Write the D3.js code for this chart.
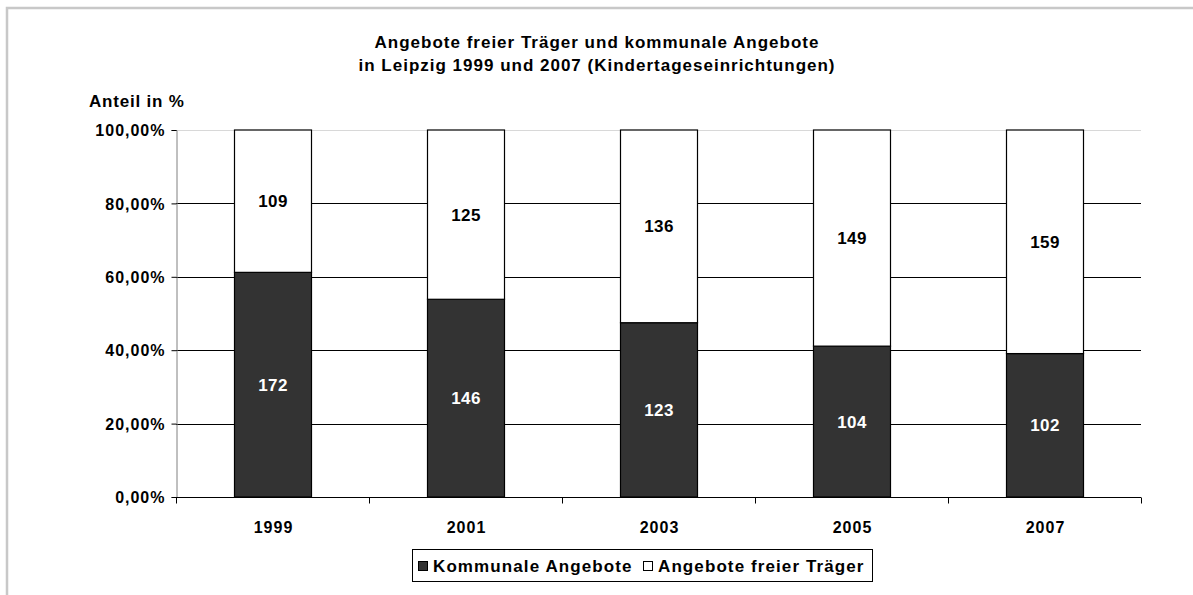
<!DOCTYPE html>
<html>
<head>
  <meta charset="utf-8">
  <script src="https://d3js.org/d3.v7.min.js"></script>
  <style>
    body { margin: 0; background: #fff; }
    text { font-family: "Liberation Sans", Arial, sans-serif; font-weight: bold; }
  </style>
</head>
<body>
  <svg width="1193" height="595"></svg>
  <script>
    const years = ['1999', '2001', '2003', '2005', '2007'];
    const kommunal = [172, 146, 123, 104, 102];
    const frei = [109, 125, 136, 149, 159];
    const yTicks = [0, 0.2, 0.4, 0.6, 0.8, 1];
    const seriesNames = ['Kommunale Angebote', 'Angebote freier Träger'];

    const svg = d3.select('svg');
    const margin = { left: 176, right: 52, top: 130, bottom: 98 };
    const width = 1193, height = 595;

    // outer frame
    svg.append('rect')
      .attr('x', 7).attr('y', 8)
      .attr('width', 1200).attr('height', 600)
      .attr('fill', 'none').attr('stroke', '#c8c8c8').attr('stroke-width', 2.5);

    const x = d3.scaleBand().domain(years)
      .range([margin.left, width - margin.right]).paddingInner(0.6).paddingOuter(0.3);
    const y = d3.scaleLinear().domain([0, 1]).range([height - margin.bottom, margin.top]);

    const fmt = v => d3.format('.2f')(v * 100).replace('.', ',') + '%';

    // gridlines
    svg.append('g').selectAll('line').data(yTicks.slice(1)).join('line')
      .attr('x1', margin.left).attr('x2', width - margin.right)
      .attr('y1', d => Math.round(y(d)) + 0.5).attr('y2', d => Math.round(y(d)) + 0.5)
      .attr('stroke', d => d === 1 ? '#d8d8d8' : '#000');

    // y axis
    const yAxis = svg.append('g')
      .attr('transform', `translate(${margin.left + 0.5},0)`)
      .call(d3.axisLeft(y).tickValues(yTicks).tickFormat(fmt).tickSize(5).tickPadding(6));
    yAxis.select('.domain').attr('stroke', '#808080');
    yAxis.selectAll('.tick line').attr('stroke', '#000');
    yAxis.selectAll('.tick text').attr('font-size', 16).attr('fill', '#000')
      .attr('letter-spacing', 1).attr('dy', '0.36em');

    // x axis
    const xAxisG = svg.append('g')
      .attr('transform', `translate(0,${Math.round(y(0)) + 0.5})`);
    xAxisG.append('line').attr('x1', margin.left).attr('x2', width - margin.right).attr('stroke', '#000');
    const step = x.step();
    const bounds = d3.range(years.length + 1).map(i => margin.left + i * step);
    xAxisG.selectAll('.xt').data(bounds).join('line').attr('class', 'xt')
      .attr('x1', d => Math.round(d) + 0.5).attr('x2', d => Math.round(d) + 0.5)
      .attr('y1', 0).attr('y2', 6).attr('stroke', '#000');
    xAxisG.selectAll('text').data(years).join('text')
      .attr('x', d => x(d) + x.bandwidth() / 2 + 1).attr('y', 35)
      .attr('text-anchor', 'middle').attr('font-size', 16).attr('letter-spacing', 1)
      .text(d => d);

    // bars
    const data = years.map((yr, i) => {
      const tot = kommunal[i] + frei[i];
      return { yr, k: kommunal[i], f: frei[i], pk: kommunal[i] / tot };
    });
    const bars = svg.append('g');
    bars.selectAll('.k').data(data).join('rect')
      .attr('x', d => Math.round(x(d.yr)) + 0.5).attr('width', Math.round(x.bandwidth()))
      .attr('y', d => y(d.pk)).attr('height', d => y(0) - y(d.pk))
      .attr('fill', '#333333').attr('stroke', '#000').attr('stroke-width', 1.2);
    bars.selectAll('.f').data(data).join('rect')
      .attr('x', d => Math.round(x(d.yr)) + 0.5).attr('width', Math.round(x.bandwidth()))
      .attr('y', y(1)).attr('height', d => y(d.pk) - y(1))
      .attr('fill', '#fff').attr('stroke', '#000').attr('stroke-width', 1.2);

    // data labels
    bars.selectAll('.lk').data(data).join('text')
      .attr('x', d => x(d.yr) + x.bandwidth() / 2 + 0.5)
      .attr('y', d => (y(0) + y(d.pk)) / 2 + 6)
      .attr('text-anchor', 'middle').attr('font-size', 17).attr('letter-spacing', 0.4)
      .attr('fill', '#fff').text(d => d.k);
    bars.selectAll('.lf').data(data).join('text')
      .attr('x', d => x(d.yr) + x.bandwidth() / 2 + 0.5)
      .attr('y', d => (y(1) + y(d.pk)) / 2 + 6)
      .attr('text-anchor', 'middle').attr('font-size', 17).attr('letter-spacing', 0.4)
      .attr('fill', '#000').text(d => d.f);

    // title
    const title = svg.append('text').attr('text-anchor', 'middle').attr('font-size', 17)
      .attr('letter-spacing', 1);
    title.append('tspan').attr('x', 597).attr('y', 48).text('Angebote freier Träger und kommunale Angebote');
    title.append('tspan').attr('x', 597).attr('y', 71).text('in Leipzig 1999 und 2007 (Kindertageseinrichtungen)');

    svg.append('text').attr('x', 89).attr('y', 107).attr('font-size', 17)
      .attr('letter-spacing', 0.8).text('Anteil in %');

    // legend
    const lg = svg.append('g').attr('transform', 'translate(412,549)');
    lg.append('rect').attr('x', 0.5).attr('y', 0.5).attr('width', 460).attr('height', 32)
      .attr('fill', '#fff').attr('stroke', '#000');
    const items = [
      { name: seriesNames[0], fill: '#333333', x: 6 },
      { name: seriesNames[1], fill: '#fff', x: 231 }
    ];
    items.forEach(it => {
      lg.append('rect').attr('x', it.x + 0.5).attr('y', 12.5).attr('width', 9).attr('height', 9)
        .attr('fill', it.fill).attr('stroke', '#000');
      lg.append('text').attr('x', it.x + 15).attr('y', 23).attr('font-size', 17)
        .attr('letter-spacing', 1.1).text(it.name);
    });
  </script>
</body>
</html>
